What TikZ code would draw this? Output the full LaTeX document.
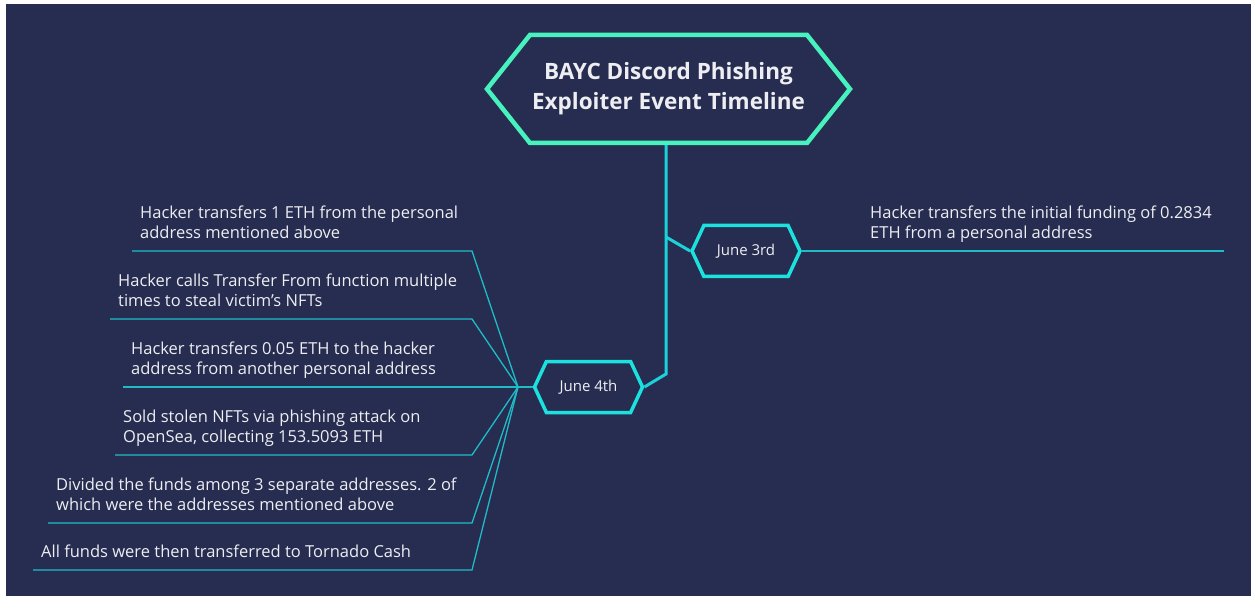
\documentclass[tikz,border=0pt]{standalone}
\usepackage{fontspec}
\setmainfont{Open Sans}
\usetikzlibrary{shapes.symbols,positioning}

\definecolor{navybg}{HTML}{262D50}
\definecolor{titlegreen}{HTML}{48F2BE}
\definecolor{datecyan}{HTML}{1BE2DE}
\definecolor{stemcyan}{HTML}{1CD2DA}
\definecolor{leafcyan}{HTML}{1FBCC8}
\definecolor{paletext}{HTML}{EEEEF2}

\tikzset{
  titlebox/.style={signal, signal to=east and west, signal pointer angle=103,
    draw=titlegreen, line width=4.5pt, fill=navybg, text=paletext,
    minimum width=363pt, minimum height=108pt, inner sep=0pt, align=center,
    font=\bfseries\fontsize{22.5}{30}\selectfont},
  datebox/.style={signal, signal to=east and west, signal pointer angle=130,
    draw=datecyan, line width=3.5pt, fill=navybg, text=paletext,
    minimum width=108pt, minimum height=51pt, inner sep=0pt,
    font=\fontsize{15}{18}\selectfont},
  item/.style={anchor=south west, align=left, text=paletext,
    inner xsep=8pt, inner ysep=8pt, text depth=4pt,
    font=\fontsize{16.5}{20.5}\selectfont},
  stem/.style={draw=stemcyan, line width=3pt},
  leaf/.style={draw=leafcyan, line width=1.3pt},
}

\begin{document}
\begin{tikzpicture}[x=1pt,y=-1pt]
\useasboundingbox (0,0) rectangle (1251,596);
\fill[navybg] (6,4) rectangle (1251,596);

% --- Title and the two dates
\node[titlebox] (title) at (668.5,89) {BAYC Discord Phishing\\Exploiter Event Timeline};
\node[datebox] (d3) at (746,251) {June 3rd};
\node[datebox] (d4) at (588.5,387) {June 4th};

% --- Helper points
\coordinate (bend) at (666,374);
\coordinate (fork3) at (666,237);
\coordinate (fan) at (518,387);
\coordinate (elbow) at (472,0);
\coordinate (tail3) at (1224,251);

% --- Trunk
\draw[stem] (title.south -| bend) -- (bend) -- (d4.east);
\draw[stem] (fork3) -- (d3.west);

% --- June 3rd event
\node[item] (r1) at (862,251) {Hacker transfers the initial funding of 0.2834\\ETH from a personal address};
\draw[leaf] (d3.east) -- (tail3);

% --- June 4th events
\node[item] (e1) at (132,251) {Hacker transfers 1 ETH from the personal\\address mentioned above};
\node[item] (e2) at (110,319) {Hacker calls Transfer From function multiple\\times to steal victim’s NFTs};
\node[item] (e3) at (123,387) {Hacker transfers 0.05 ETH to the hacker\\address from another personal address};
\node[item] (e4) at (115,455) {Sold stolen NFTs via phishing attack on\\OpenSea, collecting 153.5093 ETH};
\node[item] (e5) at (48,523) {Divided the funds among 3 separate addresses. 2 of\\which were the addresses mentioned above};
\node[item] (e6) at (33,570) {All funds were then transferred to Tornado Cash};

\foreach \e in {e1,e2,e3,e4,e5,e6}
  \draw[leaf] (\e.south west) -- (\e.south west -| elbow) -- (fan);
\draw[leaf] (fan) -- (d4.west);

\end{tikzpicture}
\end{document}
